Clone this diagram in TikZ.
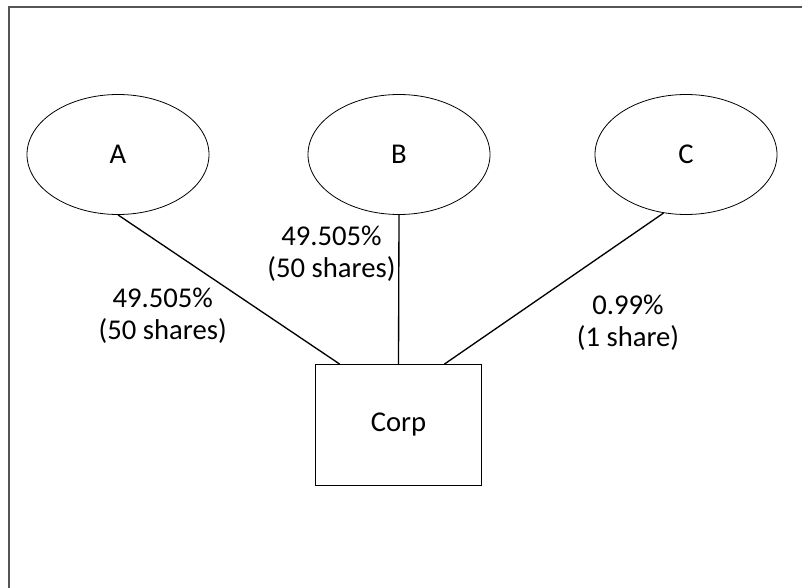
\documentclass[tikz,border=0pt]{standalone}
\usepackage{fontspec}
\setmainfont{Carlito}
\usetikzlibrary{shapes.geometric}
\definecolor{framegray}{RGB}{85,85,85}

\begin{document}
\begin{tikzpicture}[x=0.75pt,y=-0.75pt]
            \tikzstyle{every node}+=[font=\fontsize{21.5}{24}\selectfont]
            \tikzstyle{owner}=[draw=black, line width=0.6pt, ellipse, inner sep=0pt, minimum width=136.5pt, minimum height=90pt]
            \tikzstyle{firm}=[draw=black, line width=0.6pt, rectangle, minimum width=124.5pt, minimum height=90.75pt]
            \tikzstyle{stake}=[align=center, inner sep=0pt]
            \tikzstyle{link}=[black, line width=1pt]
            \useasboundingbox (0,0) rectangle (802,588);
            \draw [framegray, line width=1.5pt] (9,588) -- (9,7) -- (802,7);
            \node [owner] (A) at (118,154.5) {A};
            \node [owner] (B) at (399,154.5) {B};
            \node [owner] (C) at (686,154.5) {C};
            \node [firm] (corp) at (398.5,425) {Corp};
            \draw [link] (A.south) -- (corp.134.5);
            \draw [link] (B.south) -- (corp.north);
            \draw [link] (C.-111) -- (corp.53.7);
            \node [stake] (shareA) at (162.7,316) {49.505\%\\(50 shares)};
            \node [stake] (shareB) at (331.5,253.5) {49.505\%\\(50 shares)};
            \node [stake] (shareC) at (628,323) {0.99\%\\(1 share)};
        \end{tikzpicture}
\end{document}
